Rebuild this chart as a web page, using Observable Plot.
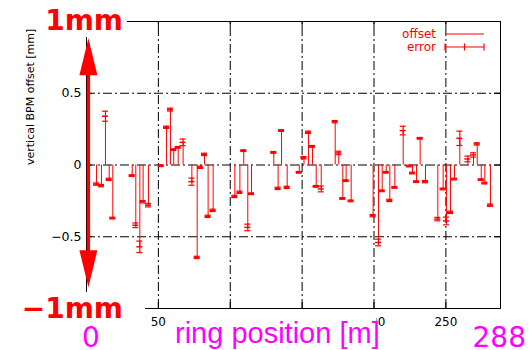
<!DOCTYPE html>
<html><head><meta charset="utf-8">
<script src="https://cdn.jsdelivr.net/npm/d3@7"></script>
<script src="https://cdn.jsdelivr.net/npm/@observablehq/plot@0.6"></script>
<style>
html,body{margin:0;padding:0;background:#fff;}
#chart svg{display:block;}
</style></head><body><div id="chart"></div>
<script>
// ring position of each BPM [m]
const positions = [7.0,10.4,13.2,15.8,18.3,31.8,34.3,37.1,39.4,43.1,52.0,55.7,58.4,60.7,63.8,67.2,73.3,77.0,79.3,82.1,84.6,88.1,103.2,106.7,109.4,112.2,114.8,130.3,133.3,135.7,139.6,148.0,151.3,154.4,157.2,159.8,163.3,173.0,175.5,178.3,180.6,184.1,199.4,203.1,205.7,208.5,211.0,214.5,220.3,224.5,226.8,229.6,232.1,235.8,244.4,248.1,250.4,253.2,256.0,259.7,265.3,269.2,271.8,274.6,277.1,281.0];
// vertical BPM offset [mm]
const offsets = [-0.133,-0.144,0.34,-0.10,-0.37,-0.074,-0.42,-0.57,-0.256,-0.28,-0.005,0.263,0.386,0.107,0.123,0.158,-0.116,-0.644,-0.016,0.074,-0.358,-0.316,-0.219,-0.19,0.10,-0.435,-0.20,0.088,-0.163,0.24,-0.156,-0.051,0.051,0.228,0.13,-0.149,-0.167,0.302,0.084,-0.233,-0.109,-0.25,-0.353,-0.54,-0.18,-0.051,-0.247,-0.156,0.24,-0.007,-0.056,-0.116,0.186,-0.116,-0.377,-0.167,-0.39,-0.33,-0.098,0.186,0.042,0.07,0.147,-0.102,-0.126,-0.28];
// error of each offset [mm]
const errors = [0.008,0.008,0.035,0.008,0.006,0.006,0.016,0.04,0.008,0.012,0.006,0.008,0.01,0.006,0.006,0.023,0.025,0.008,0.008,0.008,0.008,0.008,0.008,0.008,0.006,0.023,0.006,0.006,0.008,0.006,0.008,0.006,0.008,0.008,0.006,0.006,0.02,0.008,0.012,0.006,0.006,0.006,0.008,0.023,0.006,0.006,0.008,0.006,0.03,0.006,0.006,0.006,0.006,0.008,0.012,0.006,0.027,0.008,0.006,0.05,0.02,0.015,0.008,0.006,0.006,0.008];

const xTicks = [50, 100, 150, 200, 250];
const xTickLabels = [50, 200, 250]; // 100 and 150 are hidden under the axis title
const yTicks = [-0.5, 0, 0.5];
const xDomain = [0, 288];
const yDomain = [-1, 1];
const yLabel = "vertical BPM offset [mm]";
const legendLabels = ["offset", "error"];
const rangeLabels = ["1mm", "\u22121mm"];
const ringLabels = ["0", "ring position [m]", "288"];
const arrowTips = [0.88, -0.855];

const RED = "#ff0000", MAGENTA = "#ff00ff";
const data = positions.map((x, i) => ({x, v: offsets[i], e: errors[i]}));
const capHalf = 2.1; // half cap width in metres
const dash = "9,3,2,3";

const chart = Plot.plot({
  width: 530, height: 350,
  marginLeft: 86, marginRight: 30, marginTop: 21, marginBottom: 42,
  style: {fontFamily: "DejaVu Sans", fontSize: "12px", background: "white", overflow: "visible"},
  x: {domain: xDomain},
  y: {domain: yDomain},
  marks: [
    Plot.ruleY(yTicks, {stroke: "black", strokeDasharray: dash}),
    Plot.ruleX(xTicks, {y1: yDomain[0], y2: yDomain[1], stroke: "black", strokeDasharray: dash}),
    Plot.ruleX(xTicks, {y1: -1, y2: -0.958, stroke: "black"}),
    Plot.ruleX(xTicks, {y1: 0.958, y2: 1, stroke: "black"}),
    Plot.ruleY(yTicks, {x1: 0, x2: 4, stroke: "black"}),
    Plot.ruleY(yTicks, {x1: 284, x2: 288, stroke: "black"}),
    Plot.frame({stroke: "black"}),
    Plot.ruleX(data, {x: "x", y1: 0, y2: "v", stroke: RED, strokeWidth: 1}),
    Plot.ruleX(data, {x: "x", y1: d => d.v - d.e, y2: d => d.v + d.e, stroke: RED, strokeWidth: 1.2}),
    Plot.ruleY(data, {y: d => d.v - d.e, x1: d => d.x - capHalf, x2: d => d.x + capHalf, stroke: RED, strokeWidth: 1.2}),
    Plot.ruleY(data, {y: d => d.v + d.e, x1: d => d.x - capHalf, x2: d => d.x + capHalf, stroke: RED, strokeWidth: 1.2}),
    Plot.ruleY(data, {y: "v", x1: d => d.x - capHalf, x2: d => d.x + capHalf, stroke: RED, strokeWidth: 1.5}),
    Plot.axisX(xTickLabels, {tickSize: 0, tickPadding: 9, fontSize: 12, label: null, fill: "black"}),
    Plot.axisY(yTicks, {tickSize: 0, tickPadding: 5, fontSize: 12.5, label: null, fill: "black", tickFormat: d => d === 0 ? "0" : d3.format(".1f")(d).replace("-", "\u2212")}),
    Plot.text([yLabel], {frameAnchor: "left", rotate: -90, dx: -56, fontSize: 11, fill: "black"})
  ]
});
document.getElementById("chart").appendChild(chart);

const svg = d3.select(chart);
const xs = chart.scale("x").apply, ys = chart.scale("y").apply;
const fx0 = xs(xDomain[0]), fx1 = xs(xDomain[1]), fy0 = ys(yDomain[1]), fy1 = ys(yDomain[0]);

// Red double arrow along the y axis
const ax = fx0 + 2.4;
const ag = svg.append("g").attr("fill", RED).attr("stroke", "none");
const headLen = 37, headHalf = 9;
ag.append("rect").attr("x", ax - 1.7).attr("width", 3.4)
  .attr("y", ys(arrowTips[0]) + headLen - 1).attr("height", ys(arrowTips[1]) - ys(arrowTips[0]) - 2 * headLen + 2);
arrowTips.forEach((t, i) => {
  const ty = ys(t), s = i === 0 ? 1 : -1;
  ag.append("path").attr("d", `M${ax},${ty}L${ax - headHalf},${ty + s * headLen}L${ax + headHalf},${ty + s * headLen}Z`);
});

// text with a white box behind it (gnuplot style labels)
function boxedText(str, x, y, anchor, font, size, weight, color, pad) {
  const g = svg.append("g");
  const r = g.append("rect").attr("fill", "white");
  const t = g.append("text").text(str).attr("x", x).attr("y", y).attr("text-anchor", anchor)
    .attr("font-family", font).attr("font-size", size).attr("font-weight", weight).attr("fill", color);
  const b = t.node().getBBox();
  const x0 = pad.left != null ? b.x - pad.left : pad.x0;
  const x1 = pad.right != null ? b.x + b.width + pad.right : pad.x1;
  r.attr("x", x0).attr("y", b.y - pad.top).attr("width", x1 - x0).attr("height", b.height + pad.top + pad.bottom);
}
boxedText(rangeLabels[0], fx0 + 37, fy0 + 9, "end", "DejaVu Sans", 28, "bold", RED, {left: 2, x1: fx0 + 41, top: 0, bottom: 0});
boxedText(rangeLabels[1], fx0 + 37, fy1 + 10, "end", "DejaVu Sans", 28, "bold", RED, {left: 2, x1: fx0 + 59, top: 0, bottom: 0});
boxedText(ringLabels[0], fx0 + 5, 347, "middle", "DejaVu Sans", 28, "normal", MAGENTA, {left: 1, right: 1, top: 0, bottom: 0});
boxedText(ringLabels[1], fx0 + 89, 343, "start", "Liberation Sans", 29, "normal", MAGENTA, {left: 6, x1: xs(200) + 3, top: 6, bottom: 2});
boxedText(ringLabels[2], fx1 + 26, 347, "end", "DejaVu Sans", 28, "normal", MAGENTA, {left: 1, right: 1, top: 0, bottom: 0});

// legend
const lg = svg.append("g").attr("font-family", "DejaVu Sans").attr("font-size", 12);
const lx = fx1 - 64, l1 = fx1 - 55, l2 = fx1 - 16, lm = (l1 + l2) / 2;
legendLabels.forEach((s, i) => {
  const yy = fy0 + 13 + i * 13;
  lg.append("text").text(s).attr("x", lx).attr("y", yy + 4).attr("text-anchor", "end").attr("fill", RED);
  lg.append("line").attr("x1", l1).attr("x2", l2).attr("y1", yy).attr("y2", yy).attr("stroke", RED).attr("stroke-width", 1.2);
  if (i === 1) {
    [l1, lm, l2].forEach(xx => lg.append("line").attr("x1", xx).attr("x2", xx).attr("y1", yy - 3.5).attr("y2", yy + 3.5).attr("stroke", RED).attr("stroke-width", 1.2));
  }
});
</script></body></html>
